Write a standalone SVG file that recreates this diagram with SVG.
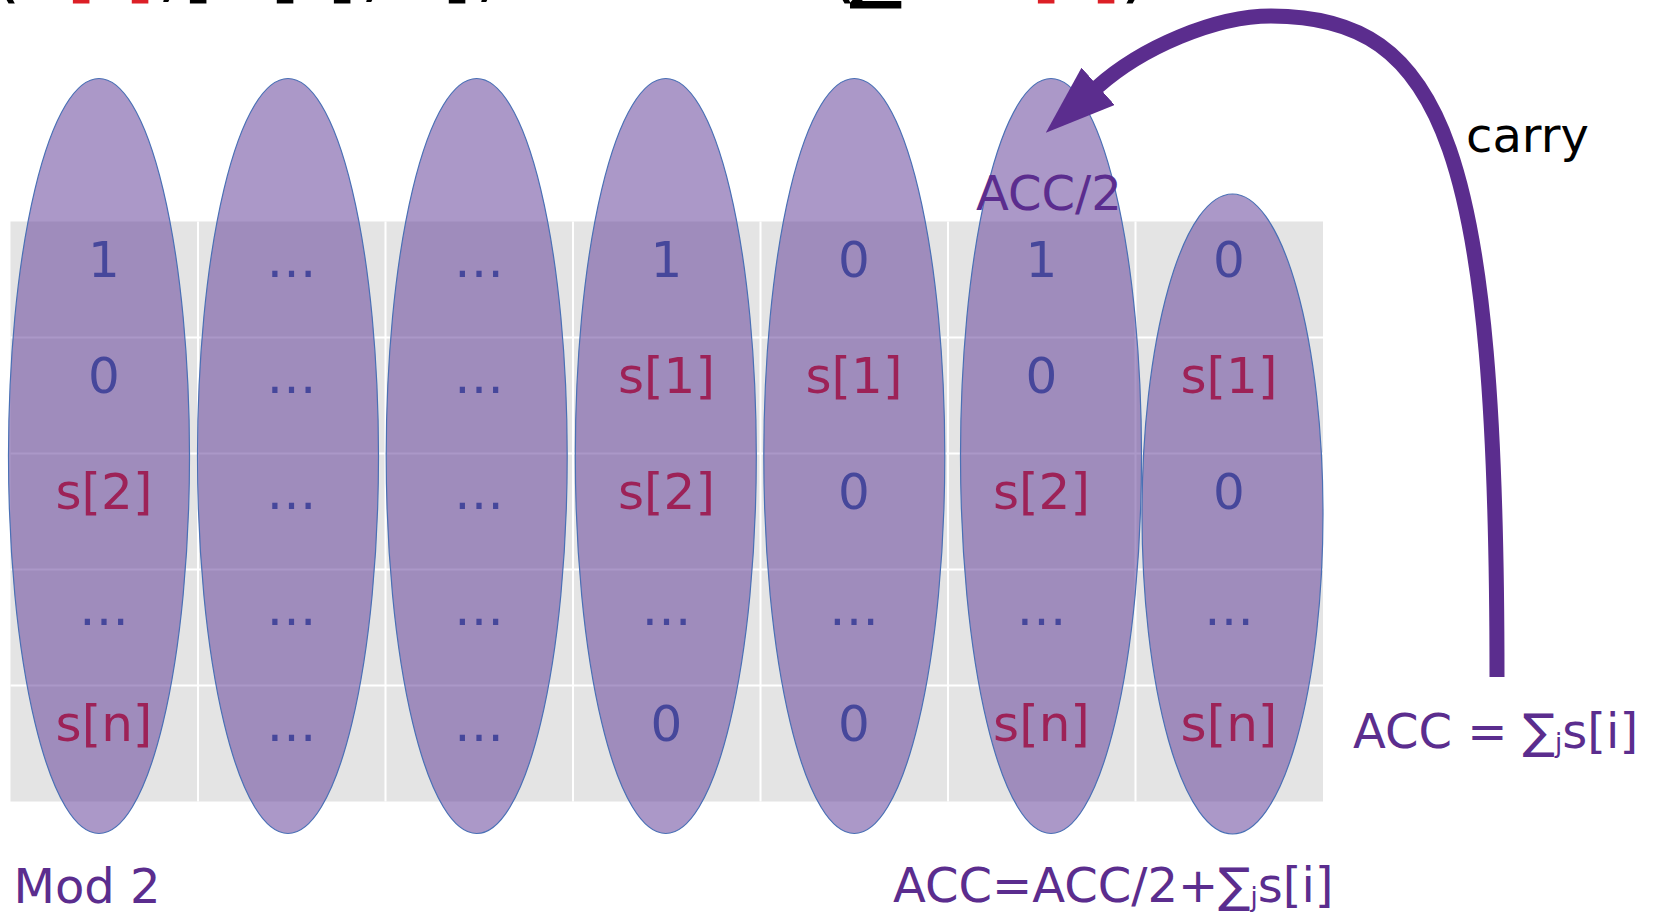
<svg xmlns="http://www.w3.org/2000/svg" width="1661" height="913" viewBox="0 0 1661 913">
  <style>
    text { font-family: 'DejaVu Sans', 'Liberation Sans', sans-serif; }
    .cell { font-size: 50px; text-anchor: middle; }
    .b { fill: #46479B; }
    .r { fill: #9D2257; }
    .lab { font-size: 48px; fill: #5B2D8E; }
    .sub { font-size: 26px; }
    .oval { fill: rgb(102,68,155); fill-opacity: 0.55; stroke: #4A70B5; stroke-width: 1.2; }
    .grid { stroke: #ffffff; stroke-width: 2; }
    .top { font-size: 80px; fill: #000000; }
    .top .red { fill: #DC1F26; }
  </style>
  <defs>
    <marker id="arrowhead" markerUnits="userSpaceOnUse" markerWidth="70" markerHeight="50" viewBox="0 0 70 50" refX="1" refY="25" orient="auto">
      <path d="M0,0 L70,25 L0,50 z" fill="#5B2D8E"/>
    </marker>
  </defs>

  <!-- heading line, only its lowest edge is inside the frame -->
  <g id="title">
    <text class="top" y="-7"><tspan x="-10">(</tspan><tspan class="red" x="66">[</tspan><tspan class="red" x="124">]</tspan><tspan x="157">,</tspan><tspan x="183">[</tspan><tspan x="269">]</tspan><tspan x="327">[</tspan><tspan x="360">,</tspan><tspan x="441">]</tspan><tspan x="475">,</tspan><tspan x="826">(</tspan><tspan x="849">∑</tspan><tspan class="red" x="1031">[</tspan><tspan class="red" x="1090">]</tspan><tspan x="1120">)</tspan></text>
  </g>

  <!-- bit table background -->
  <g id="table">
    <rect x="10.5" y="221.5" width="1312.5" height="580" fill="#E4E4E4"/>
    <g class="grid">
      <line x1="198" y1="221.5" x2="198" y2="801.5"/>
      <line x1="385.5" y1="221.5" x2="385.5" y2="801.5"/>
      <line x1="573" y1="221.5" x2="573" y2="801.5"/>
      <line x1="760.5" y1="221.5" x2="760.5" y2="801.5"/>
      <line x1="948" y1="221.5" x2="948" y2="801.5"/>
      <line x1="1135.5" y1="221.5" x2="1135.5" y2="801.5"/>
      <line x1="10.5" y1="337.5" x2="1323" y2="337.5"/>
      <line x1="10.5" y1="453.5" x2="1323" y2="453.5"/>
      <line x1="10.5" y1="569.5" x2="1323" y2="569.5"/>
      <line x1="10.5" y1="685.5" x2="1323" y2="685.5"/>
    </g>
  </g>

  <!-- columns -->
  <g id="col-1">
    <ellipse class="oval" cx="99" cy="456" rx="90.5" ry="377.5"/>
    <text class="cell b" x="104" y="277">1</text>
    <text class="cell b" x="104" y="393">0</text>
    <text class="cell r" x="104" y="509">s[2]</text>
    <text class="cell b" x="104" y="625">…</text>
    <text class="cell r" x="104" y="741">s[n]</text>
  </g>
  <g id="col-2">
    <ellipse class="oval" cx="288" cy="456" rx="90.5" ry="377.5"/>
    <text class="cell b" x="291.5" y="277">…</text>
    <text class="cell b" x="291.5" y="393">…</text>
    <text class="cell b" x="291.5" y="509">…</text>
    <text class="cell b" x="291.5" y="625">…</text>
    <text class="cell b" x="291.5" y="741">…</text>
  </g>
  <g id="col-3">
    <ellipse class="oval" cx="476.7" cy="456" rx="90.5" ry="377.5"/>
    <text class="cell b" x="479" y="277">…</text>
    <text class="cell b" x="479" y="393">…</text>
    <text class="cell b" x="479" y="509">…</text>
    <text class="cell b" x="479" y="625">…</text>
    <text class="cell b" x="479" y="741">…</text>
  </g>
  <g id="col-4">
    <ellipse class="oval" cx="665.8" cy="456" rx="90.5" ry="377.5"/>
    <text class="cell b" x="666.5" y="277">1</text>
    <text class="cell r" x="666.5" y="393">s[1]</text>
    <text class="cell r" x="666.5" y="509">s[2]</text>
    <text class="cell b" x="666.5" y="625">…</text>
    <text class="cell b" x="666.5" y="741">0</text>
  </g>
  <g id="col-5">
    <ellipse class="oval" cx="854.3" cy="456" rx="90.5" ry="377.5"/>
    <text class="cell b" x="854" y="277">0</text>
    <text class="cell r" x="854" y="393">s[1]</text>
    <text class="cell b" x="854" y="509">0</text>
    <text class="cell b" x="854" y="625">…</text>
    <text class="cell b" x="854" y="741">0</text>
  </g>
  <g id="col-6">
    <ellipse class="oval" cx="1051" cy="456" rx="90.5" ry="377.5"/>
    <text class="cell b" x="1041.5" y="277">1</text>
    <text class="cell b" x="1041.5" y="393">0</text>
    <text class="cell r" x="1041.5" y="509">s[2]</text>
    <text class="cell b" x="1041.5" y="625">…</text>
    <text class="cell r" x="1041.5" y="741">s[n]</text>
    <text class="lab" x="976" y="210">ACC/2</text>
  </g>
  <g id="col-7">
    <ellipse class="oval" cx="1232.5" cy="514" rx="90.5" ry="320"/>
    <text class="cell b" x="1229" y="277">0</text>
    <text class="cell r" x="1229" y="393">s[1]</text>
    <text class="cell b" x="1229" y="509">0</text>
    <text class="cell b" x="1229" y="625">…</text>
    <text class="cell r" x="1229" y="741">s[n]</text>
  </g>

  <!-- accumulator labels -->
  <g id="acc">
    <text class="lab" x="1353" y="748">ACC = ∑<tspan class="sub" dy="4">j</tspan><tspan dy="-4">s[i]</tspan></text>
  </g>
  <g id="acc-update">
    <text class="lab" x="893" y="902">ACC=ACC/2+∑<tspan class="sub" dy="4">j</tspan><tspan dy="-4">s[i]</tspan></text>
  </g>
  <g id="mod2">
    <text class="lab" x="13.5" y="903">Mod 2</text>
  </g>

  <!-- carry feedback -->
  <g id="connectors">
    <path d="M1497,677 C1497,150 1445,16 1271,16 C1215,16 1142,47.4 1097.4,87" fill="none" stroke="#5B2D8E" stroke-width="15" marker-end="url(#arrowhead)"/>
    <text x="1466" y="152" font-size="48" fill="#000000">carry</text>
  </g>
</svg>
